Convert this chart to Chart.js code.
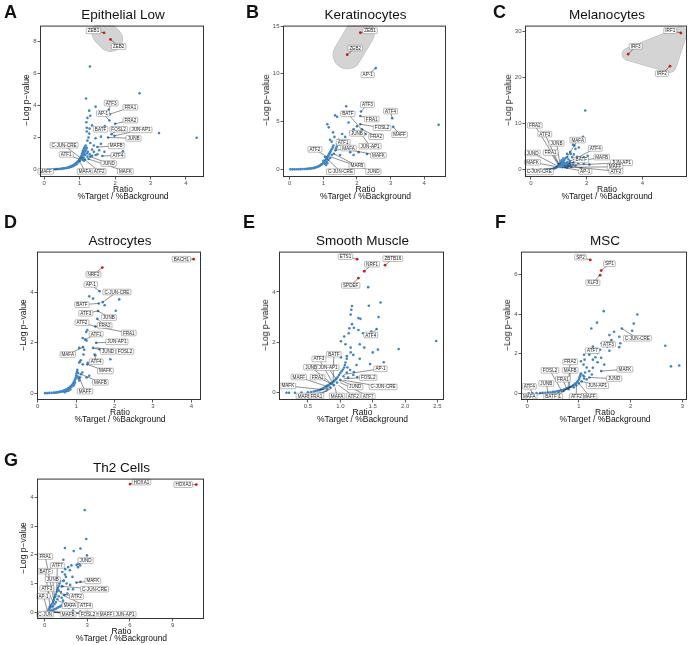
<!DOCTYPE html>
<html>
<head>
<meta charset="utf-8">
<script src="https://cdn.jsdelivr.net/npm/chart.js@4.4.1/dist/chart.umd.min.js"></script>
<style>
  body { margin: 0; background: #fff; font-family: "Liberation Sans", Arial, sans-serif; }
  #fig { position: relative; width: 695px; height: 645px; overflow: hidden; }
  .letter { position: absolute; font-weight: bold; font-size: 18px; line-height: 18px; color: #111; }
  .title { position: absolute; font-size: 13.5px; line-height: 14px; color: #111; white-space: nowrap; transform: translate(-50%, -50%); }
  .xlab { position: absolute; font-size: 8.5px; line-height: 8px; color: #111; text-align: center; white-space: nowrap; transform: translateX(-50%); }
  .ylab { position: absolute; font-size: 8.5px; color: #111; white-space: nowrap; transform: translate(-50%, -50%) rotate(-90deg); }
</style>
</head>
<body>
<div id="fig"></div>
<script>
// ---------- data: [ratio, -log p] ----------
// hits = red points [name, x, y, labelX, labelY]; labels = boxed names [name, x, y, labelX, labelY]

const epithelialPts = [[0.11,0],[0.16,0],[0.22,0.01],[0.27,0.01],[0.33,0.02],[0.38,0.03],[0.42,0.03],[0.46,0.04],[0.5,0.05],[0.53,0.06],[0.56,0.07],[0.6,0.09],[0.62,0.08],[0.65,0.11],[0.68,0.13],[0.7,0.12],[0.72,0.16],[0.74,0.18],[0.76,0.15],[0.78,0.22],[0.8,0.25],[0.81,0.2],[0.83,0.28],[0.85,0.31],[0.86,0.26],[0.88,0.36],[0.9,0.4],[0.91,0.33],[0.93,0.46],[0.95,0.5],[0.96,0.44],[0.98,0.58],[1,0.64],[1.01,0.55],[1.02,0.72],[1.04,0.8],[1.05,0.68],[1.06,0.9],[1.07,1],[1.08,0.85],[1.09,1.1],[1.1,1.2],[1.1,0.95],[1.11,0.75],[1.12,1.3],[1.13,1.05],[1.14,1.4],[1.15,0.9],[1.16,1.15],[1.17,1.5],[1.18,1.25],[1.2,1],[1.2,1.35],[1.22,0.8],[1.23,1.1],[1.25,0.65],[1.28,0.95],[1.3,0.8],[1.12,0.55],[1.08,0.6],[1.15,0.62],[1.35,0.85],[1.4,1.1],[1.45,0.9],[1.5,0.95],
  [1.29,6.43],[2.69,4.76],[1.18,4.43],[1.45,3.92],[1.82,3.73],[1.85,3.45],[1.27,3.67],[1.22,3.22],[1.3,3.35],[1.84,3.06],[1.19,2.95],[1.35,2.75],[2,2.85],[1.2,2.6],[1.28,2.55],[1.71,2.71],[3.24,2.27],[4.3,1.98],[1.9,2.2],[1.98,2.1],[1.8,2],[1.6,2.05],[1.45,1.95],[1.2,2.37],[1.27,2.24],[1.25,2],[1.22,1.8],[1.3,1.65],[1.5,1.4],[1.64,0.84],[2.23,1.59],[2.22,1.14],[2,1.45],[1.4,1.5],[1.55,1.2],[1.7,1.1],[1.35,1.25],[1.6,1.6]];
const epithelialHits = [['ZEB1',1.69,8.53,1.39,8.65],['ZEB2',1.87,8.12,2.1,7.67]];
const epithelialLabels = [['ATF3',1.82,3.73,1.89,4.14],['FRA1',1.85,3.45,2.43,3.88],['AP-1',1.84,3.06,1.66,3.49],['FRA2',2,2.85,2.43,3.08],['BATF',1.71,2.71,1.59,2.51],['FOSL2',1.9,2.2,2.1,2.51],['JUN-AP1',1.98,2.1,2.73,2.47],['JUNB',1.8,2,2.52,1.94],['MAFB',1.5,1.4,2.03,1.47],['ATF4',1.64,0.84,2.08,0.88],['JUND',1.3,0.8,1.82,0.37],['MAFK',1.25,0.65,2.29,-0.12],['C-JUN-CRE',1.05,0.68,0.56,1.51],['ATF1',1,0.64,0.62,0.94],['MAFA',0.98,0.58,1.15,-0.12],['ATF2',1.04,0.8,1.55,-0.12],['MAFF',0.38,0.03,0.04,-0.12]];

const keratinocytePts = [[0.02,0],[0.08,0],[0.14,0],[0.2,0.01],[0.26,0.01],[0.32,0.02],[0.38,0.03],[0.44,0.04],[0.5,0.05],[0.54,0.06],[0.58,0.08],[0.62,0.09],[0.66,0.11],[0.7,0.13],[0.73,0.16],[0.76,0.19],[0.79,0.22],[0.82,0.26],[0.85,0.3],[0.88,0.35],[0.9,0.4],[0.93,0.47],[0.95,0.52],[0.98,0.6],[1,0.68],[1.02,0.77],[1.04,0.86],[1.06,0.95],[1.08,1.05],[1.1,1.15],[1.12,1.28],[1.14,1.4],[1.16,1.52],[1.18,1.65],[1.2,1.78],[1.22,1.92],[1.25,2.1],[1.28,2.3],[1.3,2.5],[1.05,0.6],[1.1,0.8],[1.15,1],[1.2,1.2],[1.25,1.5],[1.08,0.45],[1.12,0.65],[1,0.9],[1.05,1.3],
  [4.43,4.66],[1.68,6.6],[2.12,6.06],[3.05,5.34],[1.41,5.5],[1.35,5.65],[2.1,5.58],[2.26,3.7],[2.1,4.73],[3.08,4.45],[2.15,4.2],[1.9,4.2],[2.15,3.6],[1.12,4.73],[1.16,4.4],[1.29,3.87],[1.33,3.4],[1.56,3.7],[1.65,3.4],[1.8,3.9],[1.7,2.7],[1.59,2.16],[1.36,1.99],[1.31,1.64],[1.8,1.8],[2.05,1.8],[1.5,1.5],[1.9,1.5],[1.6,2.9],[1.45,3.1],[2,4.5],[1.75,4.9],[1.4,2.4],[2.3,1.6],[1.25,2.9],[1.2,3.1],[1.38,2.2],[1.48,2.6],[1.41,2.67],[2.56,10.6]];
const keratinocyteHits = [['ZEB1',2.1,14.3,2.39,14.5],['ZEB2',1.71,12,1.95,12.7]];
const keratinocyteLabels = [['AP-1',2.56,10.6,2.32,9.9],['ATF3',2.12,6.06,2.31,6.78],['ATF4',3.05,5.34,3,6.1],['BATF',2.26,3.7,1.73,5.82],['FRA1',2.1,5.58,2.44,5.27],['FOSL2',2.1,4.73,2.75,4.35],['MAFF',3.08,4.45,3.27,3.63],['FRA2',2.15,4.2,2.57,3.42],['JUNB',1.9,4.2,2,3.77],['JUN-AP1',2.15,3.6,2.39,2.43],['ATF1',1.41,2.67,1.59,2.84],['MAFA',1.36,1.99,1.75,2.23],['MAFK',1.59,2.16,2.64,1.47],['ATF2',1.12,1.28,0.75,2.09],['MAFB',1.31,1.64,2,0.38],['JUND',1.22,1.3,2.49,-0.24],['C-JUN-CRE',1.1,1.15,1.51,-0.24]];

const melanocytePts = [[0.06,0],[0.35,0.02],[0.5,0.03],[0.55,0.04],[0.6,0.05],[0.65,0.07],[0.7,0.1],[0.75,0.14],[0.8,0.2],[0.83,0.25],[0.86,0.3],[0.9,0.4],[0.93,0.5],[0.96,0.6],[0.98,0.7],[1,0.85],[1.02,1],[1.05,1.1],[1.08,1.25],[1.1,1.4],[1.12,1.55],[1.15,1.7],[1.18,1.9],[1.2,2.1],[1.05,0.6],[1.1,0.9],[1.12,0.5],[1.15,1.2],[1.18,0.8],[1.2,1.5],[1.22,1],[1.25,1.3],[1.28,0.9],[1.3,1.6],[1.32,1.2],[1.35,0.8],[1.38,1.4],[1.4,1],[1,1.2],[1.08,1.6],[1.22,0.5],[1.3,0.4],[1.45,0.6],[1.5,1.1],[1.6,0.9],[1.1,2],[1.16,2.4],
  [1.95,12.8],[1.87,7.1],[1.51,5.4],[1.56,5.2],[1.6,4.5],[1.72,4.8],[1.41,3.8],[1.43,3.4],[1.3,3.4],[1.54,3.3],[1.48,2.7],[1.66,2.8],[1.78,2.6],[1.9,2.7],[2.04,3],[1.64,2],[1.25,2.5],[1.35,2.2],[1.4,1.8],[1.55,1.6],[1.7,1.4],[1.9,1.3],[2.1,1.1],[1.8,0.3],[1.3,2.7],[1.7,2.2]];
const melanocyteHits = [['IRF1',5.38,29.6,5,30.1],['IRF3',3.49,25,3.76,26.7],['IRF2',4.99,22.4,4.7,20.8]];
const melanocyteLabels = [['FRA2',1,1.2,0.14,9.6],['ATF3',1.02,1,0.5,7.7],['JUNB',1.05,1.1,0.92,5.7],['FRA1',1,0.85,0.71,3.7],['JUND',0.98,0.7,0.06,3.6],['MAFK',0.96,0.6,0.06,1.6],['C-JUN-CRE',0.93,0.5,0.3,-0.5],['MAFA',1.3,2.7,1.68,6.4],['ATF4',1.4,1.8,2.31,4.6],['MAFB',1.38,1.4,2.54,2.7],['BATF',1.32,1.2,1.81,2.1],['JUN-AP1',1.28,0.9,3.25,1.5],['MAFF',1.22,0.5,3.02,0.6],['ATF2',1.18,0.8,3.05,-0.35],['AP-1',1.12,0.5,1.95,-0.4]];

const astrocytePts = [[0.19,0],[0.25,0],[0.3,0.01],[0.36,0.01],[0.42,0.02],[0.46,0.02],[0.5,0.03],[0.54,0.04],[0.57,0.05],[0.6,0.06],[0.63,0.07],[0.66,0.08],[0.68,0.1],[0.7,0.09],[0.72,0.12],[0.74,0.14],[0.76,0.13],[0.78,0.17],[0.8,0.2],[0.82,0.18],[0.84,0.24],[0.86,0.28],[0.88,0.25],[0.9,0.33],[0.92,0.38],[0.94,0.44],[0.95,0.36],[0.96,0.5],[0.98,0.56],[0.99,0.62],[1,0.7],[1.01,0.78],[1.02,0.85],[1.03,0.92],[1.04,0.66],[1.05,0.8],[1.06,0.58],[1.08,0.5],[1.1,0.62],[0.97,0.42],[0.93,0.3],[0.85,0.15],[0.8,0.1],[0.75,0.08],[0.7,0.04],
  [1.34,3.83],[1.44,3.74],[2.12,3.71],[1.74,3.48],[2.03,3.26],[1.57,3.25],[1.55,2.94],[1.29,2.5],[1.26,2.42],[1.85,2.64],[1.17,2.18],[1.27,2.08],[1.08,1.79],[1.21,1.72],[1.44,1.79],[1.61,1.73],[1.7,1.73],[1.89,1.34],[1.5,1.5],[1.19,1.53],[1.08,1.21],[1.17,1.14],[1.3,1.2],[1.34,0.69],[1.27,0.62],[1.16,0.82],[1.61,4.03],[1.69,3.6],[1.59,3.55],[1.5,2.64],[1.23,2.12],[1.52,1.99],[1.18,1.82],[1.48,1.53],[1.29,1.14],[1.12,0.75],[1.08,0.62],[1.1,1.25],[1.12,1.3]];
const astrocyteHits = [['BACH1',4.06,5.3,3.74,5.3],['NRF2',1.68,4.97,1.45,4.7]];
const astrocyteLabels = [['AP-1',1.61,4.03,1.38,4.3],['C-JUN-CRE',1.69,3.6,2.06,4],['BATF',1.59,3.55,1.15,3.5],['ATF3',1.57,3.25,1.25,3.16],['JUNB',1.57,3.25,1.85,2.99],['FRA2',1.55,2.94,1.74,2.68],['ATF2',1.5,2.64,1.15,2.79],['FRA1',1.5,2.64,2.37,2.38],['ATF1',1.23,2.12,1.52,2.34],['JUN-AP1',1.52,1.99,2.06,2.03],['MAFA',1.18,1.82,0.78,1.53],['JUND',1.44,1.79,1.83,1.65],['FOSL2',1.5,1.8,2.27,1.65],['ATF4',1.48,1.53,1.52,1.25],['MAFK',1.29,1.14,1.76,0.88],['MAFB',1.12,0.75,1.63,0.43],['MAFF',1.08,0.62,1.23,0.08]];

const smoothMusclePts = [[0.17,0],[0.21,0],[0.3,0],[0.4,0.01],[0.5,0.02],[0.55,0.03],[0.59,0.05],[0.62,0.07],[0.65,0.09],[0.68,0.1],[0.7,0.13],[0.72,0.15],[0.74,0.18],[0.76,0.2],[0.78,0.24],[0.8,0.28],[0.82,0.3],[0.84,0.34],[0.86,0.37],[0.88,0.4],[0.9,0.45],[0.92,0.5],[0.94,0.56],[0.96,0.62],[0.98,0.7],[1,0.78],[1.02,0.85],[1.04,0.92],[1.06,1],[1.07,1.1],[1.08,1.2],[1.1,1.35],[0.95,0.4],[1,0.5],[1.05,0.65],[1.1,0.8],[0.9,0.3],[0.85,0.2],[0.8,0.15],[1.12,0.6],[1.15,0.9],[1.2,0.7],
  [1.43,4.19],[1.44,3.45],[1.62,3.58],[1.59,3],[1.18,3.44],[1.17,3.29],[1.16,3.1],[1.28,2.96],[1.31,2.93],[1.18,2.72],[1.14,2.56],[1.21,2.58],[1.28,2.49],[1.35,2.36],[1.48,2.43],[1.56,2.53],[1.54,2.31],[2.48,2.05],[1.9,1.73],[1.13,2.36],[1.06,2.23],[1.01,2.04],[1.08,1.92],[1.16,1.79],[1.3,1.92],[1.37,1.79],[1.5,1.6],[1.58,1.71],[1.16,1.6],[1.1,1.45],[1.01,1.4],[1.67,1.21],[1.46,1.14],[1.43,0.62],[1.26,0.62],[1.21,0.82],[1.11,1],[1.25,1.1],[1.3,1.35],[1.2,1.5]];
const smoothMuscleHits = [['ETS1',1.26,5.3,1.08,5.4],['NRF1',1.37,4.82,1.49,5.1],['ZBTB16',1.69,5.06,1.81,5.32],['SPDEF',1.28,4.55,1.16,4.26]];
const smoothMuscleLabels = [['ATF4',1.56,2.53,1.47,2.29],['BATF',0.89,0.42,0.9,1.53],['ATF3',0.88,0.4,0.67,1.34],['JUNB',0.86,0.37,0.55,1.01],['JUN-AP1',0.95,0.5,0.81,0.99],['AP-1',1.06,0.73,1.62,0.95],['FRA2',0.9,0.3,0.65,0.62],['MAFF',0.85,0.2,0.36,0.62],['FOSL2',1.06,0.56,1.43,0.6],['C-JUN-CRE',1.04,0.5,1.66,0.23],['JUND',1,0.5,1.23,0.23],['MAFK',0.8,0.1,0.19,0.27],['MAFB',0.8,0.06,0.44,-0.13],['FRA1',0.85,0.15,0.63,-0.13],['MAFA',0.92,0.2,0.95,-0.13],['ATF2',0.97,0.3,1.2,-0.13],['ATF7',1,0.4,1.43,-0.13]];

const mscPts = [[0.03,0],[0.1,0],[0.18,0.01],[0.25,0.01],[0.3,0.02],[0.35,0.03],[0.4,0.04],[0.45,0.05],[0.5,0.07],[0.54,0.08],[0.58,0.1],[0.62,0.13],[0.66,0.15],[0.7,0.18],[0.73,0.21],[0.76,0.24],[0.79,0.27],[0.82,0.3],[0.85,0.33],[0.88,0.38],[0.9,0.42],[0.92,0.46],[0.94,0.5],[0.96,0.55],[0.98,0.62],[1,0.7],[1.01,0.78],[1.02,0.86],[1.03,0.94],[1.04,1],[0.9,0.3],[0.95,0.4],[1,0.5],[1.05,0.6],[1.1,0.75],[1.08,0.9],[0.8,0.2],[0.7,0.12],[0.6,0.08],[1.15,0.7],[1.2,0.8],[1.12,1.05],
  [1.48,4.15],[2.13,3.98],[1.35,3.57],[2.06,3.52],[1.24,3.27],[1.68,3.11],[1.83,3.27],[2.03,3.16],[1.59,2.94],[1.78,2.86],[1.63,2.69],[1.8,2.53],[1.78,2.33],[1.55,2.36],[1.27,2.36],[1.17,2.2],[1.44,2.53],[1.41,2.2],[1.59,2.15],[1.36,2.03],[1.2,1.95],[1.1,1.95],[1.32,1.82],[1.43,1.79],[1.27,1.7],[1.11,1.7],[1.04,1.62],[1.09,1.45],[1.36,1.57],[1.49,1.45],[1.27,1.29],[1.43,1.12],[1.2,1.12],[2.67,2.4],[2.78,1.36],[2.94,1.4],[1.15,1.3],[1.25,0.95],[1.1,0.85]];
const mscHits = [['SP2',1.22,6.74,1.03,6.88],['SP1',1.43,6.2,1.59,6.55],['KLF3',1.41,5.97,1.27,5.59]];
const mscLabels = [['C-JUN-CRE',1.83,3.27,2.13,2.78],['ATF3',1.63,2.69,1.57,2.48],['ATF7',1.2,1.95,1.26,2.15],['MAFK',1.43,1.12,1.89,1.21],['JUND',1.2,0.8,1.68,0.74],['JUN-AP1',1.05,0.6,1.36,0.38],['MAFF',1,0.5,1.2,-0.15],['ATF2',0.95,0.4,0.95,-0.17],['ATF1',0.9,0.42,0.55,-0.16],['BATF',0.85,0.33,0.46,-0.16],['MAFA',0.3,0.02,0.04,-0.15],['ATF4',0.1,0,0.04,0.35],['JUNB',0.4,0.04,0.37,0.5],['FOSL2',0.66,0.15,0.44,1.16],['FRA1',0.76,0.24,0.69,0.71],['FRA2',0.79,0.27,0.83,1.59],['MAFB',0.82,0.3,0.83,1.16]];

const th2Pts = [[0,0],[0.1,0],[0.2,0.01],[0.3,0.02],[0.4,0.04],[0.5,0.06],[0.6,0.08],[0.7,0.1],[0.8,0.12],[0.9,0.15],[1,0.18],[1.1,0.2],[1.2,0.23],[0.3,0.1],[0.4,0.15],[0.5,0.2],[0.55,0.3],[0.6,0.35],[0.65,0.42],[0.7,0.5],[0.75,0.55],[0.8,0.62],[0.85,0.7],[0.9,0.78],[0.95,0.85],[1,0.92],[1.05,1],[1.1,1.08],[1.15,0.7],[1.2,0.5],[1.3,0.4],[1.4,0.6],[1.25,0.9],[1.35,1.1],[0.6,0.2],[0.7,0.28],[0.8,0.35],[0.9,0.45],[1,0.55],[0.45,0.25],[0.35,0.18],[1.5,0.3],[1.7,0.15],[2,0.05],[2.5,0.02],[3,0.01],[4,0],
  [2.82,3.56],[2.93,2.55],[2.98,1.98],[1.43,2.24],[2.05,2.13],[2.52,2.22],[1.32,1.83],[1.66,1.57],[1.89,1.63],[1.78,1.46],[2.35,1.57],[2.5,1.63],[2.4,1.7],[1.43,1.31],[1.96,1.23],[1.5,1.23],[2.24,1.03],[2.52,1.06],[1.66,0.8],[1.55,1],[1.32,1.09],[1.2,0.9],[1,0.75],[1.45,1.5],[1.6,0.65],[1.8,0.95],[2,0.8],[1.25,1.4],[2.6,1.75],[2.25,1.65]];
const th2Hits = [['HOXA1',6,4.47,6.81,4.54],['HOXA3',10.66,4.45,9.74,4.45]];
const th2Labels = [['FRA1',0.65,0.42,0.05,1.94],['ATF7',0.85,0.7,0.9,1.63],['BATF',0.4,0.15,0.05,1.43],['JUNB',0.7,0.5,0.58,1.14],['ATF3',0.6,0.35,0.16,0.83],['AP-1',0.2,0.05,-0.07,0.56],['C-JUN',0.1,0.02,0.05,-0.07],['MAFB',0.3,0.02,1.66,-0.07],['FOSL2',0.25,0.02,3.05,-0.07],['MAFF',0.2,0.01,4.32,-0.07],['JUN-AP1',0.15,0.01,5.65,-0.07],['JUND',2.25,1.65,2.88,1.8],['MAFK',2.24,1.03,3.39,1.09],['C-JUN-CRE',1.2,0.9,3.51,0.8],['ATF2',1.08,0.65,2.24,0.54],['MAFA',0.95,0.4,1.78,0.22],['ATF4',1.25,0.6,2.88,0.22]];

// ---------- layout of the seven panels (pixels) ----------
const panels = [
  { letter: 'A', title: 'Epithelial Low', pts: epithelialPts, hits: epithelialHits, labels: epithelialLabels,
    box: [40, 23, 206, 177], xr: [-0.12, 4.51], xt: [0, 1, 2, 3, 4], yr: [-0.47, 8.98], yt: [0, 2, 4, 6, 8], hull: 12, lp: [4, 3], yl: 10 },
  { letter: 'B', title: 'Keratinocytes', pts: keratinocytePts, hits: keratinocyteHits, labels: keratinocyteLabels,
    box: [283, 23, 448, 177], xr: [-0.2, 4.65], xt: [0, 1, 2, 3, 4], yr: [-0.8, 15.05], yt: [0, 5, 10, 15], hull: 14, lp: [246, 3], yl: 13 },
  { letter: 'C', title: 'Melanocytes', pts: melanocytePts, hits: melanocyteHits, labels: melanocyteLabels,
    box: [525, 23, 689, 177], xr: [-0.21, 5.6], xt: [0, 2, 4], yr: [-1.6, 31.2], yt: [0, 10, 20, 30], hull: 6, lp: [493, 3], yl: 13 },
  { letter: 'D', title: 'Astrocytes', pts: astrocytePts, hits: astrocyteHits, labels: astrocyteLabels,
    box: [37, 249, 203, 400], xr: [-0.02, 4.25], xt: [0, 1, 2, 3, 4], yr: [-0.27, 5.6], yt: [0, 2, 4], hull: 0, lp: [4, 213], yl: 10 },
  { letter: 'E', title: 'Smooth Muscle', pts: smoothMusclePts, hits: smoothMuscleHits, labels: smoothMuscleLabels,
    box: [279, 249, 446, 400], xr: [0.054, 2.6], xt: [0.5, 1, 1.5, 2, 2.5], dec: 1, yr: [-0.29, 5.6], yt: [0, 2, 4], hull: 0, lp: [243, 213], yl: 10 },
  { letter: 'F', title: 'MSC', pts: mscPts, hits: mscHits, labels: mscLabels,
    box: [521, 249, 689, 400], xr: [-0.12, 3.09], xt: [0, 1, 2, 3], yr: [-0.34, 7.16], yt: [0, 2, 4, 6], hull: 0, lp: [495, 213], yl: 10 },
  { letter: 'G', title: 'Th2 Cells', pts: th2Pts, hits: th2Hits, labels: th2Labels,
    box: [37, 476, 206, 619], xr: [-0.53, 11.2], xt: [0, 3, 6, 9], yr: [-0.24, 4.66], yt: [0, 1, 2, 3, 4], hull: 0, lp: [4, 451], yl: 10 }
];

const fig = document.getElementById('fig');

function addDiv(cls, text, css) {
  const d = document.createElement('div');
  d.className = cls;
  d.textContent = text;
  Object.assign(d.style, css);
  fig.appendChild(d);
}

// convex hull (monotone chain) of pixel points
function hullOf(pts) {
  const p = pts.slice().sort((a, b) => a[0] - b[0] || a[1] - b[1]);
  if (p.length < 3) return p;
  const cross = (o, a, b) => (a[0] - o[0]) * (b[1] - o[1]) - (a[1] - o[1]) * (b[0] - o[0]);
  const lo = [], up = [];
  for (const q of p) { while (lo.length >= 2 && cross(lo[lo.length - 2], lo[lo.length - 1], q) <= 0) lo.pop(); lo.push(q); }
  for (const q of p.slice().reverse()) { while (up.length >= 2 && cross(up[up.length - 2], up[up.length - 1], q) <= 0) up.pop(); up.push(q); }
  return lo.slice(0, -1).concat(up.slice(0, -1));
}

function panelPlugin(p) {
  return {
    id: 'panel' + p.letter,
    beforeDatasetsDraw(chart) {
      if (!p.hull) return;
      const { ctx, chartArea: a, scales: { x, y } } = chart;
      const h = hullOf(p.hits.map(d => [x.getPixelForValue(d[1]), y.getPixelForValue(d[2])]));
      ctx.save();
      ctx.beginPath();
      ctx.rect(a.left, a.top, a.right - a.left, a.bottom - a.top);
      ctx.clip();
      ctx.lineJoin = 'round';
      ctx.lineCap = 'round';
      [['#b8b8b8', p.hull * 2 + 1], ['#d4d4d4', p.hull * 2]].forEach(([c, w]) => {
        ctx.beginPath();
        h.forEach((q, i) => i ? ctx.lineTo(q[0], q[1]) : ctx.moveTo(q[0], q[1]));
        ctx.closePath();
        ctx.strokeStyle = c; ctx.fillStyle = c; ctx.lineWidth = w;
        ctx.stroke(); ctx.fill();
      });
      ctx.restore();
    },
    afterDatasetsDraw(chart) {
      const { ctx, scales: { x, y } } = chart;
      const all = p.labels.concat(p.hits);
      ctx.save();
      ctx.font = '4.6px "Liberation Sans", Arial, sans-serif';
      ctx.strokeStyle = '#222';
      ctx.lineWidth = 0.5;
      all.forEach(d => {
        ctx.beginPath();
        ctx.moveTo(x.getPixelForValue(d[1]), y.getPixelForValue(d[2]));
        ctx.lineTo(x.getPixelForValue(d[3]), y.getPixelForValue(d[4]));
        ctx.stroke();
      });
      all.forEach(d => {
        const cx = x.getPixelForValue(d[3]), cy = y.getPixelForValue(d[4]);
        const w = ctx.measureText(d[0]).width + 3, h = 5.6;
        ctx.beginPath();
        ctx.roundRect(cx - w / 2, cy - h / 2, w, h, 0.8);
        ctx.fillStyle = '#fff';
        ctx.fill();
        ctx.strokeStyle = '#777';
        ctx.stroke();
        ctx.fillStyle = '#222';
        ctx.textAlign = 'center';
        ctx.textBaseline = 'middle';
        ctx.fillText(d[0], cx, cy + 0.3);
      });
      ctx.restore();
    },
    afterDraw(chart) {
      const { ctx, chartArea: a } = chart;
      ctx.save();
      ctx.strokeStyle = '#333';
      ctx.lineWidth = 1;
      ctx.strokeRect(a.left + 0.5, a.top + 0.5, a.right - a.left - 1, a.bottom - a.top - 1);
      ctx.restore();
    }
  };
}

function axis(range, ticks, dec, isX) {
  return {
    type: 'linear',
    min: range[0],
    max: range[1],
    afterBuildTicks: s => { s.ticks = ticks.map(v => ({ value: v })); },
    afterFit: s => { if (isX) s.height = 12; else s.width = 30; },
    ticks: {
      autoSkip: false, maxRotation: 0, padding: isX ? 0 : 1,
      color: '#4d4d4d', font: { size: 6, family: '"Liberation Sans", Arial, sans-serif' },
      callback: v => dec ? v.toFixed(dec) : v
    },
    grid: { drawOnChartArea: false, tickLength: 2.5, color: '#333', lineWidth: 0.8 },
    border: { display: false }
  };
}

panels.forEach(p => {
  const [l, t, r, b] = p.box;
  const cv = document.createElement('canvas');
  cv.width = r - l + 32;
  cv.height = b - t + 14;
  cv.style.cssText = `position:absolute;left:${l - 30}px;top:${t - 2}px;`;
  fig.appendChild(cv);

  new Chart(cv, {
    type: 'scatter',
    data: {
      datasets: [
        { data: p.pts.map(([x, y]) => ({ x, y })), backgroundColor: '#3f85c6', borderWidth: 0, pointRadius: 1.3 },
        { data: p.hits.map(d => ({ x: d[1], y: d[2] })), backgroundColor: '#e4191c', borderWidth: 0, pointRadius: 1.4 }
      ]
    },
    options: {
      responsive: false,
      animation: false,
      layout: { padding: { top: 2, right: 2, left: 0, bottom: 0 } },
      plugins: { legend: { display: false }, tooltip: { enabled: false } },
      scales: { x: axis(p.xr, p.xt, p.dec, true), y: axis(p.yr, p.yt, 0, false) }
    },
    plugins: [panelPlugin(p)]
  });

  const cx = (l + r) / 2;
  addDiv('letter', p.letter, { left: p.lp[0] + 'px', top: p.lp[1] + 'px' });
  addDiv('title', p.title, { left: cx + 'px', top: (t - 8) + 'px' });
  addDiv('xlab', 'Ratio', { left: cx + 'px', top: (b + 7.5) + 'px' });
  addDiv('xlab', '%Target / %Background', { left: cx + 'px', top: (b + 15) + 'px' });
  addDiv('ylab', '\u2212Log p\u2212value', { left: (l - p.yl - 4) + 'px', top: ((t + b) / 2) + 'px' });
});
</script>
</body>
</html>
